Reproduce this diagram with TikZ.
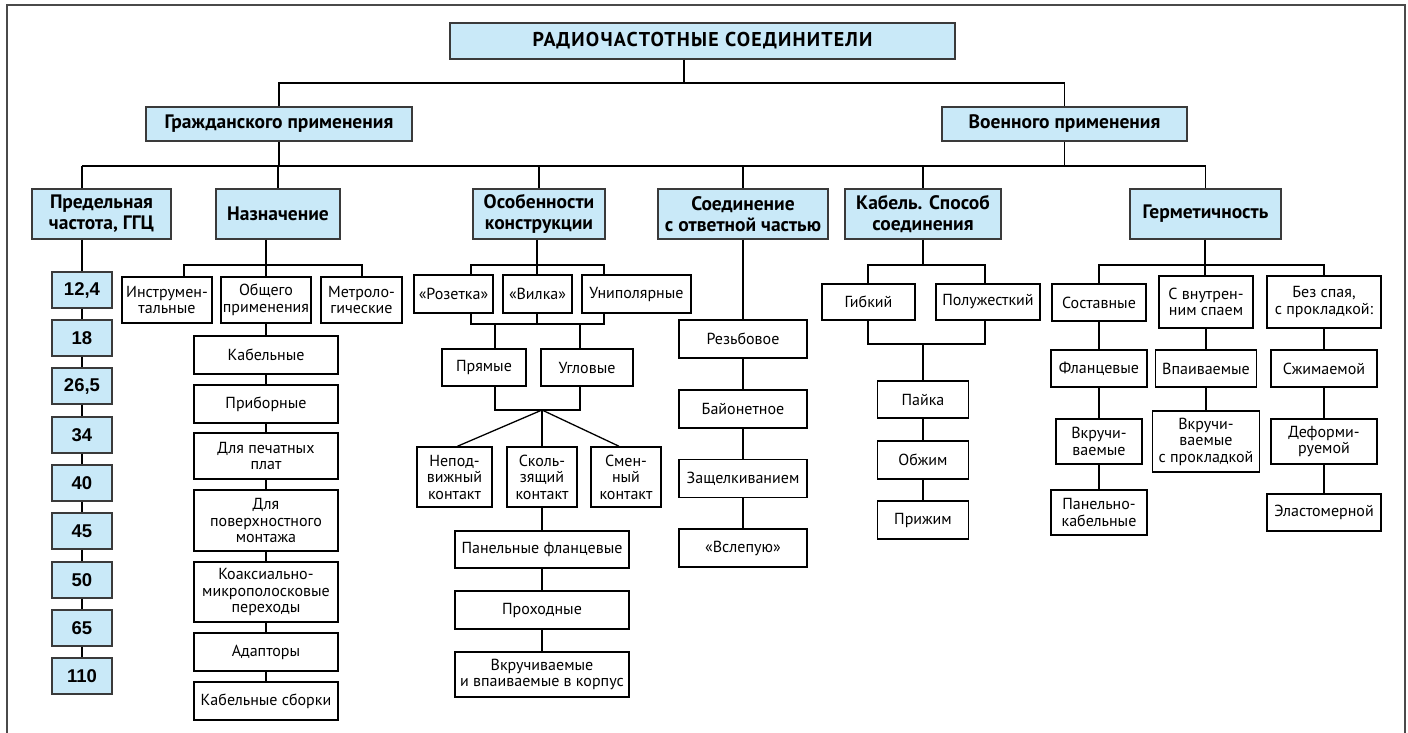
\documentclass[tikz,border=0pt]{standalone}
\usepackage{fontspec}
\setmainfont{PT Sans}
\newfontfamily\numfont{Liberation Sans}
\newfontfamily\titlefont[LetterSpace=6]{PT Sans}
\definecolor{boxblue}{HTML}{C9E9F8}
\definecolor{boxline}{HTML}{3A3A3A}
\definecolor{frameline}{HTML}{4A4A4A}
\tikzset{
  hdr/.style={draw=boxline, fill=boxblue, line width=1.4pt, inner sep=0pt,
    align=center, font=\bfseries\fontsize{19.5}{21}\selectfont},
  numbox/.style={hdr, minimum width=60pt, minimum height=36pt,
    font=\numfont\bfseries\fontsize{18.5}{20}\selectfont},
  leaf/.style={draw=black, fill=white, line width=1.5pt, inner sep=0pt,
    align=center, font=\fontsize{16}{16.5}\selectfont},
  link/.style={line width=1.3pt, draw=black}
}
\begin{document}
\begin{tikzpicture}[x=1pt, y=-1pt]
  \useasboundingbox (0,0) rectangle (1408,733);
  \draw[frameline, line width=2pt] (7,733) -- (7,5) -- (1405,5) -- (1405,733);

  % top levels
  \node[hdr, minimum width=505pt, minimum height=36pt, font=\titlefont\bfseries\fontsize{20}{22}\selectfont] (title) at (702.5,41) {РАДИОЧАСТОТНЫЕ СОЕДИНИТЕЛИ};
  \node[hdr, minimum width=266pt, minimum height=34pt] (civ) at (279,124) {Гражданского применения};
  \node[hdr, minimum width=245pt, minimum height=34pt] (mil) at (1064.5,124) {Военного применения};

  \node[hdr, minimum width=139pt, minimum height=50pt] (pred) at (101.5,214) {Предельная\\частота, ГГЦ};
  \node[hdr, minimum width=124pt, minimum height=50pt] (nazn) at (278,214) {Назначение};
  \node[hdr, minimum width=132pt, minimum height=50pt] (osob) at (539,214) {Особенности\\конструкции};
  \node[hdr, minimum width=170pt, minimum height=50pt] (soed) at (743,214) {Соединение\\с~ответной частью};
  \node[hdr, minimum width=156pt, minimum height=50pt] (kab) at (923,214) {Кабель. Способ\\соединения};
  \node[hdr, minimum width=151pt, minimum height=50pt] (germ) at (1205.5,214) {Герметичность};

  % frequencies
  \node[numbox] (f1) at (82,290) {12,4};
  \node[numbox] (f2) at (82,338) {18};
  \node[numbox] (f3) at (82,386) {26,5};
  \node[numbox] (f4) at (82,435) {34};
  \node[numbox] (f5) at (82,483) {40};
  \node[numbox] (f6) at (82,531) {45};
  \node[numbox] (f7) at (82,580) {50};
  \node[numbox] (f8) at (82,628) {65};
  \node[numbox] (f9) at (82,676) {110};

  % purpose
  \node[leaf, minimum width=90pt, minimum height=46pt] (instr) at (167,300) {Инструмен-\\тальные};
  \node[leaf, minimum width=90pt, minimum height=46pt] (obsh) at (266,300) {Общего\\применения};
  \node[leaf, minimum width=81pt, minimum height=46pt] (metr) at (361.5,300) {Метроло-\\гические};
  \node[leaf, minimum width=144pt, minimum height=38pt] (kabeln) at (266,355) {Кабельные};
  \node[leaf, minimum width=144pt, minimum height=38pt] (pribor) at (266,404) {Приборные};
  \node[leaf, minimum width=144pt, minimum height=46pt] (pechat) at (266,456) {Для печатных\\плат};
  \node[leaf, minimum width=144pt, minimum height=61pt] (poverkh) at (266,520.5) {Для\\поверхностного\\монтажа};
  \node[leaf, minimum width=144pt, minimum height=60pt] (koaks) at (266,592) {Коаксиально-\\микрополосковые\\переходы};
  \node[leaf, minimum width=144pt, minimum height=38pt] (adapt) at (266,652) {Адапторы};
  \node[leaf, minimum width=144pt, minimum height=38pt] (sborki) at (266,701) {Кабельные сборки};

  % design
  \node[leaf, minimum width=79pt, minimum height=38pt] (rozetka) at (453.5,294) {«Розетка»};
  \node[leaf, minimum width=69pt, minimum height=38pt] (vilka) at (537.5,294) {«Вилка»};
  \node[leaf, minimum width=109pt, minimum height=38pt] (unipol) at (636.5,294) {Униполярные};
  \node[leaf, minimum width=84pt, minimum height=37pt] (pryam) at (484,367.5) {Прямые};
  \node[leaf, minimum width=92pt, minimum height=37pt] (uglov) at (587,367.5) {Угловые};
  \node[leaf, minimum width=75pt, minimum height=60pt] (nepod) at (454.5,477) {Непод-\\вижный\\контакт};
  \node[leaf, minimum width=70pt, minimum height=60pt] (skolz) at (542,477) {Сколь-\\зящий\\контакт};
  \node[leaf, minimum width=70pt, minimum height=60pt] (smen) at (626,477) {Смен-\\ный\\контакт};
  \node[leaf, minimum width=174pt, minimum height=37pt] (panel) at (542,549.5) {Панельные фланцевые};
  \node[leaf, minimum width=174pt, minimum height=38pt] (prokhod) at (542,610) {Проходные};
  \node[leaf, minimum width=174pt, minimum height=45pt] (vkruch) at (542,674.5) {Вкручиваемые\\и впаиваемые в корпус};

  % mating
  \node[leaf, minimum width=128pt, minimum height=38pt] (rezb) at (743,339) {Резьбовое};
  \node[leaf, minimum width=128pt, minimum height=38pt] (bayon) at (743,409) {Байонетное};
  \node[leaf, minimum width=128pt, minimum height=38pt] (zashch) at (743,478.5) {Защелкиванием};
  \node[leaf, minimum width=128pt, minimum height=38pt] (vslep) at (743,548) {«Вслепую»};

  % cable
  \node[leaf, minimum width=93pt, minimum height=36pt] (gibk) at (868.5,302) {Гибкий};
  \node[leaf, minimum width=104pt, minimum height=36pt] (poluzh) at (988,302) {Полужесткий};
  \node[leaf, minimum width=91pt, minimum height=37pt] (paika) at (923,399.5) {Пайка};
  \node[leaf, minimum width=91pt, minimum height=38pt] (obzhim) at (923,460) {Обжим};
  \node[leaf, minimum width=91pt, minimum height=38pt] (prizhim) at (923,520) {Прижим};

  % sealing
  \node[leaf, minimum width=94pt, minimum height=37pt] (sostav) at (1099,302.5) {Составные};
  \node[leaf, minimum width=94pt, minimum height=52pt] (svnutr) at (1206,302) {С внутрен-\\ним спаем};
  \node[leaf, minimum width=114pt, minimum height=52pt] (bezspaya) at (1324,302) {Без спая,\\с~прокладкой:};
  \node[leaf, minimum width=96pt, minimum height=37pt] (flanc) at (1099,368.5) {Фланцевые};
  \node[leaf, minimum width=86pt, minimum height=45pt] (vkruchi) at (1099,441.5) {Вкручи-\\ваемые};
  \node[leaf, minimum width=96pt, minimum height=45pt] (panelkab) at (1099,512.5) {Панельно-\\кабельные};
  \node[leaf, minimum width=101pt, minimum height=37pt] (vpaiv) at (1206,368.5) {Впаиваемые};
  \node[leaf, minimum width=107pt, minimum height=61pt] (vkruchprokl) at (1206,441.5) {Вкручи-\\ваемые\\с~прокладкой};
  \node[leaf, minimum width=106pt, minimum height=37pt] (szhim) at (1324,368.5) {Сжимаемой};
  \node[leaf, minimum width=106pt, minimum height=45pt] (deform) at (1324,441.5) {Деформи-\\руемой};
  \node[leaf, minimum width=114pt, minimum height=37pt] (elast) at (1324,512.5) {Эластомерной};

  % junctions
  \coordinate (j0) at (684,83);
  \coordinate (j1) at (82,166);
  \coordinate (j2) at (266,265);
  \coordinate (j2a) at (184,265);
  \coordinate (j2b) at (362,265);
  \coordinate (j3) at (537,265);
  \coordinate (j3a) at (471,265);
  \coordinate (j3b) at (604,265);
  \coordinate (j3c) at (471,324);
  \coordinate (j3d) at (604,324);
  \coordinate (j3e) at (495,324);
  \coordinate (j3f) at (580,324);
  \coordinate (j3g) at (495,410);
  \coordinate (j3h) at (580,410);
  \coordinate (j3i) at (542,410);
  \coordinate (j4) at (923,265);
  \coordinate (j4a) at (868,265);
  \coordinate (j4b) at (985,265);
  \coordinate (j4c) at (868,344);
  \coordinate (j4d) at (985,344);
  \coordinate (j5) at (1205,265);
  \coordinate (j5a) at (1099,265);
  \coordinate (j5b) at (1324,265);

  \begin{scope}[link]
    \draw (title.south -| j0) -- (j0);
    \draw (civ.north) |- (j0) -| (mil.north);
    \draw (civ.south) -- (civ.south |- j1);
    \draw (mil.south) -- (mil.south |- j1);
    \draw (j1) -- (germ.north |- j1);
    \draw (j1) -- (j1 |- pred.north);
    \draw (nazn.north |- j1) -- (nazn.north);
    \draw (osob.north |- j1) -- (osob.north);
    \draw (soed.north |- j1) -- (soed.north);
    \draw (kab.north |- j1) -- (kab.north);
    \draw (germ.north |- j1) -- (germ.north);

    \draw (pred.south -| f1) -- (f1);
    \draw (f1) -- (f2);
    \draw (f2) -- (f3);
    \draw (f3) -- (f4);
    \draw (f4) -- (f5);
    \draw (f5) -- (f6);
    \draw (f6) -- (f7);
    \draw (f7) -- (f8);
    \draw (f8) -- (f9);

    \draw (nazn.south -| j2) -- (j2);
    \draw (j2a |- instr.north) -- (j2a) -- (j2b) -- (j2b |- metr.north);
    \draw (j2) -- (obsh);
    \draw (obsh) -- (kabeln);
    \draw (kabeln) -- (pribor);
    \draw (pribor) -- (pechat);
    \draw (pechat) -- (poverkh);
    \draw (poverkh) -- (koaks);
    \draw (koaks) -- (adapt);
    \draw (adapt) -- (sborki);

    \draw (osob.south -| j3) -- (j3);
    \draw (j3a |- rozetka.north) -- (j3a) -- (j3b) -- (j3b |- unipol.north);
    \draw (j3) -- (j3 |- vilka.north);
    \draw (rozetka.south -| j3c) -- (j3c) -- (j3d) -- (unipol.south -| j3d);
    \draw (vilka.south -| j3) -- (j3 |- j3c);
    \draw (j3e) -- (j3e |- pryam.north);
    \draw (j3f) -- (j3f |- uglov.north);
    \draw (pryam.south -| j3g) -- (j3g) -- (j3h) -- (uglov.south -| j3h);
    \draw (j3i) -- ([xshift=3pt]nepod.north);
    \draw (j3i) -- (skolz.north);
    \draw (j3i) -- ([xshift=-7pt]smen.north);
    \draw (skolz) -- (panel);
    \draw (panel) -- (prokhod);
    \draw (prokhod) -- (vkruch);

    \draw (soed) -- (rezb);
    \draw (rezb) -- (bayon);
    \draw (bayon) -- (zashch);
    \draw (zashch) -- (vslep);

    \draw (kab) -- (j4);
    \draw (j4a |- gibk.north) -- (j4a) -- (j4b) -- (j4b |- poluzh.north);
    \draw (gibk.south -| j4c) -- (j4c) -- (j4d) -- (poluzh.south -| j4d);
    \draw (paika.north |- j4c) -- (paika);
    \draw (paika) -- (obzhim);
    \draw (obzhim) -- (prizhim);

    \draw (germ.south -| j5) -- (j5);
    \draw (j5a |- sostav.north) -- (j5a) -- (j5b) -- (j5b |- bezspaya.north);
    \draw (j5) -- (j5 |- svnutr.north);
    \draw (sostav) -- (flanc);
    \draw (flanc) -- (vkruchi);
    \draw (vkruchi) -- (panelkab);
    \draw (svnutr) -- (vpaiv);
    \draw (vpaiv) -- (vkruchprokl);
    \draw (bezspaya) -- (szhim);
    \draw (szhim) -- (deform);
    \draw (deform) -- (elast);
  \end{scope}
\end{tikzpicture}
\end{document}
